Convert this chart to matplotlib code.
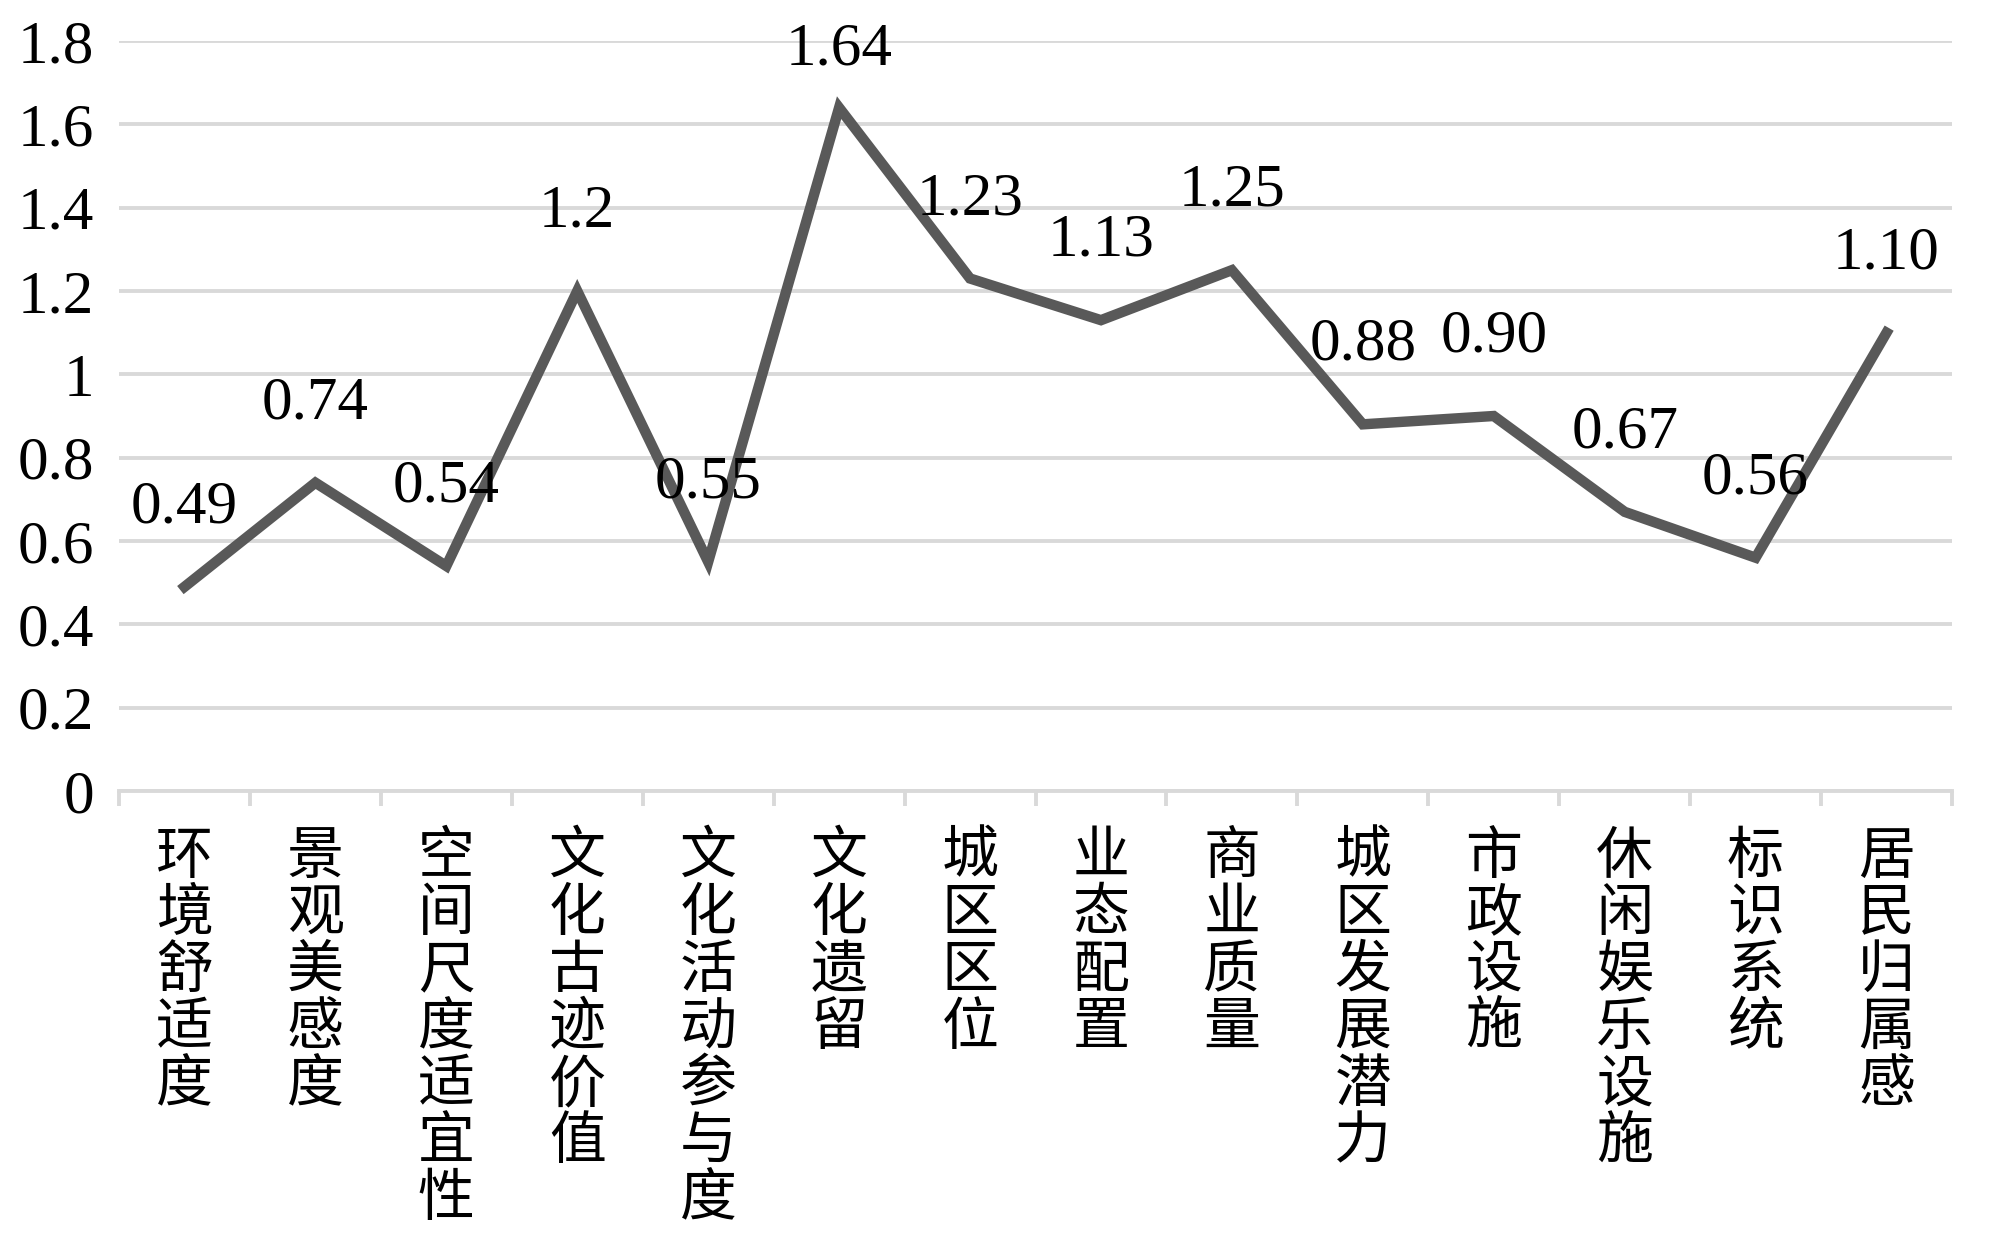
import matplotlib
matplotlib.use("Agg")
import matplotlib.pyplot as plt
from matplotlib.ticker import FixedLocator

# data
categories = ["环境舒适度", "景观美感度", "空间尺度适宜性", "文化古迹价值", "文化活动参与度",
              "文化遗留", "城区区位", "业态配置", "商业质量", "城区发展潜力",
              "市政设施", "休闲娱乐设施", "标识系统", "居民归属感"]
values = [0.49, 0.74, 0.54, 1.2, 0.55, 1.64, 1.23, 1.13, 1.25, 0.88, 0.90, 0.67, 0.56, 1.10]
value_labels = ["0.49", "0.74", "0.54", "1.2", "0.55", "1.64", "1.23", "1.13", "1.25",
                "0.88", "0.90", "0.67", "0.56", "1.10"]
y_ticks = [0, 0.2, 0.4, 0.6, 0.8, 1.0, 1.2, 1.4, 1.6, 1.8]

serif = "Liberation Serif"
cjk = "Noto Sans CJK SC"

fig = plt.figure(figsize=(20, 12.57), dpi=100)
ax = fig.add_axes([0.0595, 0.3707, 0.9165, 0.5967])

x = list(range(len(categories)))
ax.plot(x, values, color="#595959", linewidth=7.5, solid_joinstyle="miter", zorder=3)

# data labels above the points
for xi, v, lab in zip(x, values, value_labels):
    off = 42 if v > 1.6 else 57
    ax.annotate(lab, (xi, v), xytext=(0, off), textcoords="offset points",
                ha="center", va="center", fontsize=44, family=serif, color="black", zorder=4)

ax.set_xlim(-0.5, len(categories) - 0.5)
ax.set_ylim(0, 1.8)
ax.set_yticks(y_ticks)
ax.set_yticklabels(["%g" % t for t in y_ticks], family=serif, fontsize=44)
ax.yaxis.grid(True, color="#d9d9d9", linewidth=2.8)
ax.set_axisbelow(True)

ax.set_xticks(x)
ax.set_xticklabels(["\n".join(c) for c in categories], family=cjk, fontsize=41,
                   va="top", linespacing=0.97)
ax.xaxis.set_minor_locator(FixedLocator([i - 0.5 for i in range(len(categories) + 1)]))
ax.tick_params(axis="x", which="major", length=0, pad=26)
ax.tick_params(axis="x", which="minor", length=11, width=2.8, color="#d9d9d9")
ax.tick_params(axis="y", length=0, pad=18)

for s in ["top", "right", "left"]:
    ax.spines[s].set_visible(False)
ax.spines["bottom"].set_color("#d9d9d9")
ax.spines["bottom"].set_linewidth(2.8)

fig.savefig("out.png", dpi=100, facecolor="white")
